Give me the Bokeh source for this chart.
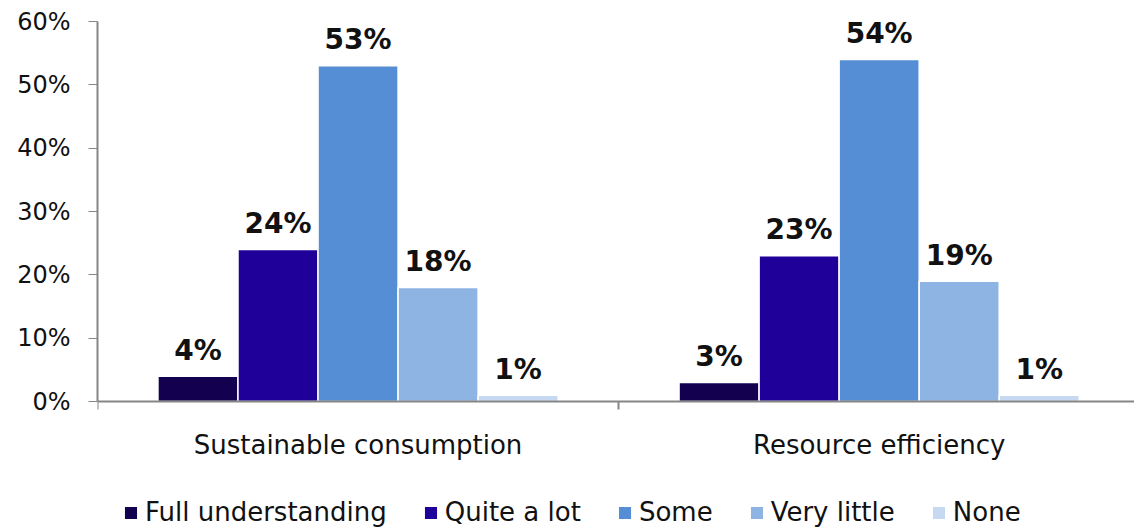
from bokeh.plotting import figure
from bokeh.models import ColumnDataSource, Range1d, FixedTicker, Legend, LegendItem
from bokeh.transform import dodge
from bokeh.core.properties import value
from bokeh.embed import file_html
from bokeh.resources import INLINE

categories = ["Sustainable consumption", "Resource efficiency"]
series = ["Full understanding", "Quite a lot", "Some", "Very little", "None"]
full_understanding = [4, 3]
quite_a_lot = [24, 23]
some = [53, 54]
very_little = [18, 19]
none_values = [1, 1]
colors = ["#13004F", "#1F0099", "#558ED5", "#8EB4E3", "#C6D9F1"]
y_ticks = [0, 10, 20, 30, 40, 50, 60]
y_tick_labels = ["0%", "10%", "20%", "30%", "40%", "50%", "60%"]

values = [full_understanding, quite_a_lot, some, very_little, none_values]

FONT = "DejaVu Sans"
cat_x = [i + 0.5 for i in range(len(categories))]
bar_w = 0.1536

# frame extends to the bottom so that category labels and legend are drawn inside it
p = figure(width=1134, height=529, output_backend="svg", toolbar_location=None,
           x_range=Range1d(0, 1.99), y_range=Range1d(-20.2, 60),
           min_border_left=97, min_border_right=0, min_border_top=21, min_border_bottom=0)
p.outline_line_color = None
p.xgrid.visible = False
p.ygrid.visible = False

renderers = []
n = len(series)
for i, (name, vals, col) in enumerate(zip(series, values, colors)):
    off = (i - (n - 1) / 2) * bar_w
    src = ColumnDataSource(dict(x=cat_x, v=vals, label=[f"{v}%" for v in vals]))
    r = p.vbar(x=dodge("x", off), top="v", bottom=0, width=bar_w, source=src,
               fill_color=col, line_color="white", line_width=1.5)
    renderers.append(r)
    p.text(x=dodge("x", off), y="v", text="label", source=src, text_align="center",
           text_baseline="alphabetic", y_offset=-26, text_font=value(FONT),
           text_font_style="bold", text_font_size="28px", text_color="#111111")

# axes
yax = p.yaxis[0]
yax.ticker = FixedTicker(ticks=y_ticks)
yax.bounds = (0, 60)
yax.major_label_overrides = {t: l for t, l in zip(y_ticks, y_tick_labels)}
yax.major_tick_out = 9
yax.major_tick_in = 0
yax.minor_tick_out = 0
yax.minor_tick_in = 0
yax.axis_line_color = "#868686"
yax.axis_line_width = 2
yax.major_tick_line_color = "#868686"
yax.major_label_standoff = 18
yax.major_label_text_font = FONT
yax.major_label_text_font_size = "24px"
yax.major_label_text_color = "#111111"

xax = p.xaxis[0]
xax.fixed_location = 0
xax.ticker = FixedTicker(ticks=cat_x, minor_ticks=[0, 1, 2])
xax.major_label_overrides = {x: c for x, c in zip(cat_x, categories)}
xax.major_tick_out = 0
xax.major_tick_in = 0
xax.minor_tick_out = 8
xax.minor_tick_in = 0
xax.minor_tick_line_color = "#868686"
xax.minor_tick_line_width = 2
xax.axis_line_color = "#868686"
xax.axis_line_width = 2
xax.major_label_standoff = 20
xax.major_label_text_font = FONT
xax.major_label_text_font_size = "26px"
xax.major_label_text_color = "#111111"

legend = Legend(items=[LegendItem(label=s, renderers=[r]) for s, r in zip(series, renderers)],
                location=(25, 2), orientation="horizontal",
                glyph_width=17, glyph_height=17, label_standoff=6, spacing=35,
                padding=0, margin=0, border_line_color=None, background_fill_alpha=0,
                label_text_font=FONT, label_text_font_size="26px", label_text_color="#111111")
p.add_layout(legend)

open("out.html", "w").write(file_html(p, INLINE))
